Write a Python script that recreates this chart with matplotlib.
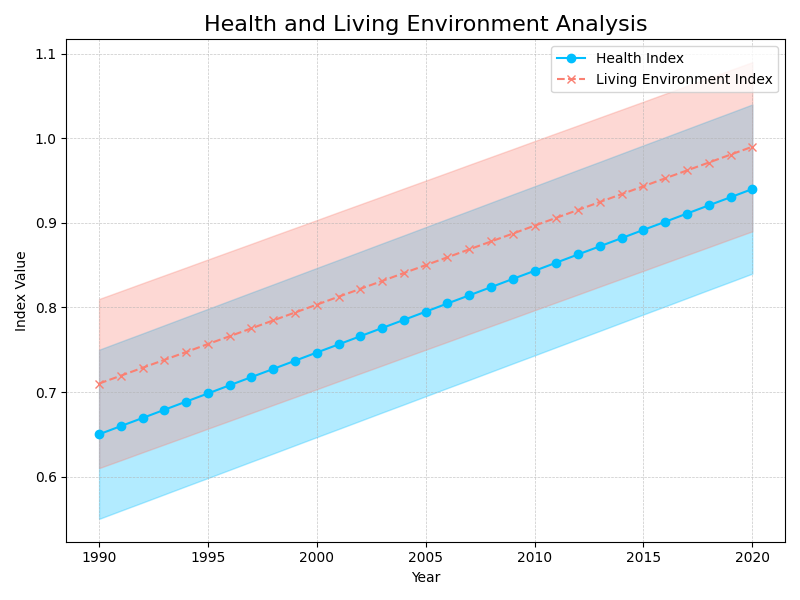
import matplotlib
matplotlib.use("Agg")
import matplotlib.pyplot as plt
import numpy as np

# Data
years = list(range(1990, 2021))
health = [0.6500, 0.6597, 0.6693, 0.6790, 0.6887, 0.6983, 0.7080, 0.7177,
          0.7273, 0.7370, 0.7467, 0.7563, 0.7660, 0.7757, 0.7853, 0.7950,
          0.8047, 0.8143, 0.8240, 0.8337, 0.8433, 0.8530, 0.8627, 0.8723,
          0.8820, 0.8917, 0.9013, 0.9110, 0.9207, 0.9303, 0.9400]
living = [0.7100, 0.7193, 0.7287, 0.7380, 0.7473, 0.7567, 0.7660, 0.7753,
          0.7847, 0.7940, 0.8033, 0.8127, 0.8220, 0.8313, 0.8407, 0.8500,
          0.8593, 0.8687, 0.8780, 0.8873, 0.8967, 0.9060, 0.9153, 0.9247,
          0.9340, 0.9433, 0.9527, 0.9620, 0.9713, 0.9807, 0.9900]
health_err = 0.10
living_err = 0.10

h = np.array(health)
l = np.array(living)

fig, ax = plt.subplots(figsize=(8, 6), dpi=100)

ax.plot(years, health, marker='o', ls='-', color='deepskyblue', label="Health Index")
ax.fill_between(years, h - health_err, h + health_err, color='deepskyblue', alpha=0.3)

ax.plot(years, living, marker='x', ls='--', color='salmon', label="Living Environment Index")
ax.fill_between(years, l - living_err, l + living_err, color='salmon', alpha=0.3)

ax.set_title("Health and Living Environment Analysis", fontsize=16)
ax.set_xlabel("Year")
ax.set_ylabel("Index Value")
ax.grid(True, ls='--', lw=0.5, alpha=0.7)
ax.legend(loc="upper right")

fig.tight_layout()
fig.savefig("out.png", dpi=100)
plt.close(fig)
